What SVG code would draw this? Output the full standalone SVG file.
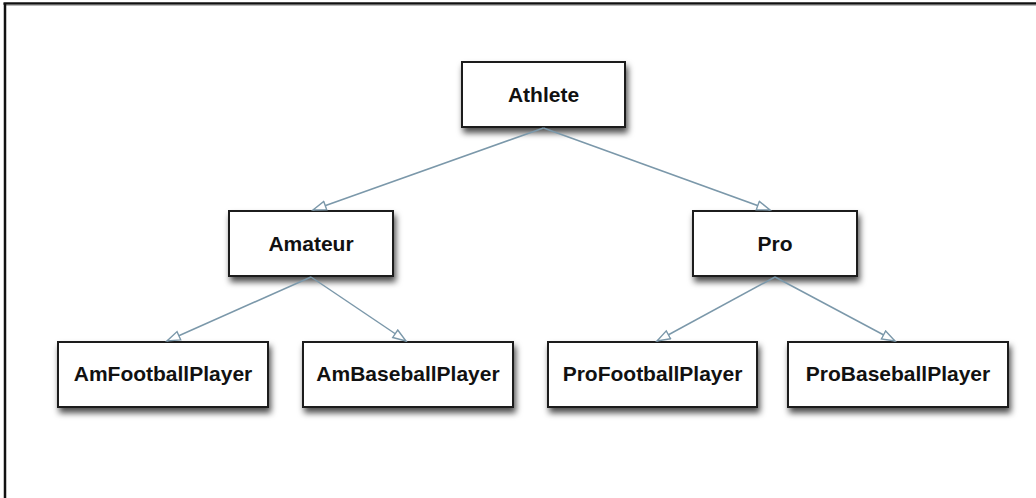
<svg xmlns="http://www.w3.org/2000/svg" width="1036" height="498" viewBox="0 0 1036 498">
  <style>
    .box { fill: #ffffff; stroke: #1a1a1a; stroke-width: 2; filter: url(#shadow); }
    .label { font-family: "Liberation Sans", Arial, Helvetica, sans-serif; font-weight: bold; font-size: 21px; fill: #111111; text-anchor: middle; }
    .edge { fill: none; stroke: #7b98aa; stroke-width: 1.5; marker-end: url(#hollow); }
    .frame { stroke: #111111; stroke-width: 2.5; fill: none; }
  </style>
  <defs>
    <filter id="shadow" x="-20%" y="-30%" width="150%" height="180%">
      <feDropShadow dx="2" dy="5" stdDeviation="3" flood-color="#000000" flood-opacity="0.7"/>
    </filter>
    <marker id="hollow" markerUnits="userSpaceOnUse" markerWidth="16" markerHeight="12" refX="14" refY="5.5" orient="auto">
      <path d="M1,1 L14,5.5 L1,10 Z" fill="#ffffff" stroke="#7b98aa" stroke-width="1.4"/>
    </marker>
  </defs>
  <rect width="1036" height="498" fill="#ffffff"/>
  <g id="frame">
    <line class="frame" x1="3.5" y1="3.5" x2="1036" y2="3.5"/>
    <line x1="4" y1="5.2" x2="1036" y2="5.2" stroke="#9a9a9a" stroke-width="1"/>
    <line class="frame" x1="5" y1="3" x2="5" y2="498"/>
  </g>
  <g id="node-athlete">
    <rect class="box" x="462" y="62" width="163" height="65"/>
    <text class="label" x="543.5" y="101.5">Athlete</text>
  </g>
  <g id="node-amateur">
    <rect class="box" x="229" y="211" width="164" height="65"/>
    <text class="label" x="311" y="250.5">Amateur</text>
  </g>
  <g id="node-pro">
    <rect class="box" x="693" y="211" width="164" height="65"/>
    <text class="label" x="775" y="250.5">Pro</text>
  </g>
  <g id="node-amfootballplayer">
    <rect class="box" x="58" y="342" width="210" height="65"/>
    <text class="label" x="163" y="380.5">AmFootballPlayer</text>
  </g>
  <g id="node-ambaseballplayer">
    <rect class="box" x="303" y="342" width="210" height="65"/>
    <text class="label" x="408" y="380.5">AmBaseballPlayer</text>
  </g>
  <g id="node-profootballplayer">
    <rect class="box" x="548" y="342" width="209" height="65"/>
    <text class="label" x="652.5" y="380.5">ProFootballPlayer</text>
  </g>
  <g id="node-probaseballplayer">
    <rect class="box" x="788" y="342" width="220" height="65"/>
    <text class="label" x="898" y="380.5">ProBaseballPlayer</text>
  </g>
  <g id="connectors">
    <line class="edge" x1="543.5" y1="128" x2="313" y2="210"/>
    <line class="edge" x1="543.5" y1="128" x2="770" y2="210"/>
    <line class="edge" x1="311" y1="277" x2="167" y2="341"/>
    <line class="edge" x1="311" y1="277" x2="406" y2="341"/>
    <line class="edge" x1="775" y1="277" x2="657" y2="341"/>
    <line class="edge" x1="775" y1="277" x2="895" y2="341"/>
  </g>
</svg>
